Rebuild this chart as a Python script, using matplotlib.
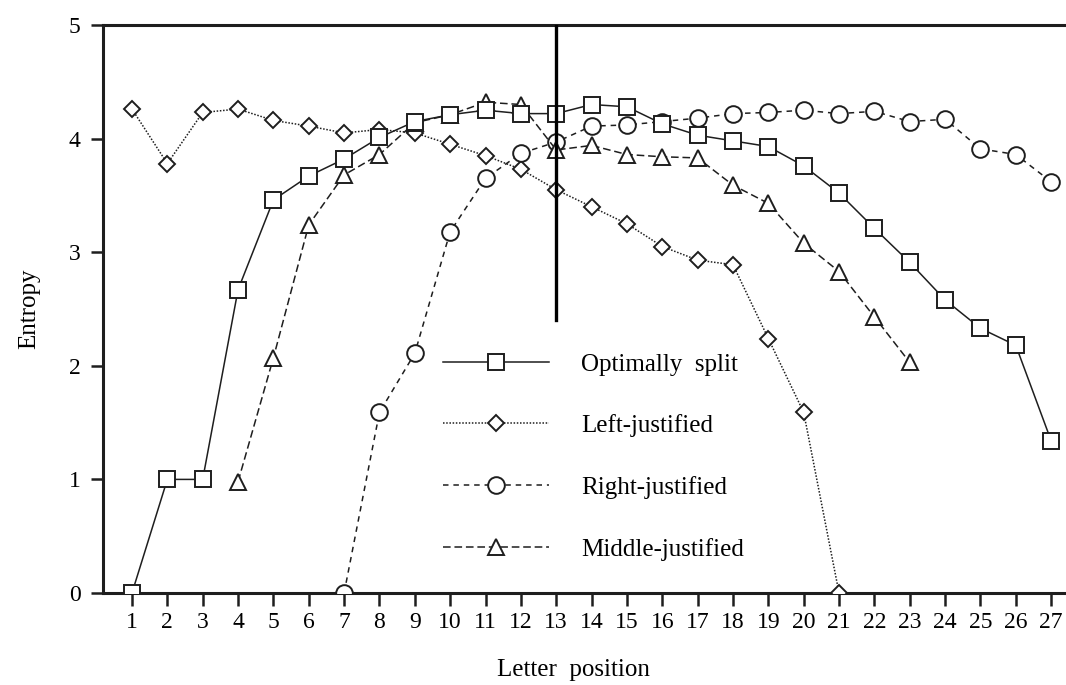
import matplotlib
matplotlib.use("Agg")
import matplotlib.pyplot as plt

positions = list(range(1, 28))

optimal = [0.0, 1.0, 1.0, 2.67, 3.46, 3.67, 3.82, 4.01, 4.15, 4.21, 4.25, 4.22, 4.22,
           4.30, 4.28, 4.13, 4.03, 3.98, 3.93, 3.76, 3.52, 3.21, 2.91, 2.58, 2.33, 2.18, 1.34]
left_just = [4.26, 3.78, 4.23, 4.26, 4.16, 4.11, 4.05, 4.08, 4.05, 3.95, 3.85, 3.73,
             3.55, 3.40, 3.25, 3.05, 2.93, 2.89, 2.24, 1.59, 0.0]
right_just = [0.0, 1.59, 2.11, 3.18, 3.65, 3.87, 3.97, 4.11, 4.12, 4.15, 4.18, 4.22,
              4.23, 4.25, 4.22, 4.24, 4.15, 4.17, 3.91, 3.86, 3.62]
middle_just = [0.98, 2.07, 3.24, 3.68, 3.86, 4.14, 4.21, 4.32, 4.30, 3.90, 3.94, 3.86,
               3.84, 3.83, 3.59, 3.43, 3.08, 2.83, 2.43, 2.03]

left_x = positions[:21]
right_x = positions[6:]
middle_x = positions[3:23]

plt.rcParams['font.family'] = ['Liberation Serif', 'DejaVu Serif']

fig = plt.figure(figsize=(10.66, 6.85), dpi=100)
ax = fig.add_axes([103 / 1066, 1 - 593 / 685, 1 - 103 / 1066, (593 - 25) / 685])

ink = '#1e1e1e'
common = dict(color=ink, linewidth=1.1, markerfacecolor='white',
              markeredgecolor=ink, markeredgewidth=1.4)

ax.plot(positions, optimal, '-', marker='s', markersize=12, label='Optimally  split',
        zorder=4, **common)
ax.plot(left_x, left_just, linestyle=(0, (1.0, 1.1)), marker='D', markersize=8.5,
        label='Left-justified', zorder=3, **common)
ax.plot(right_x, right_just, linestyle=(0, (3.6, 3.2)), marker='o', markersize=12,
        label='Right-justified', zorder=3, **common)
ax.plot(middle_x, middle_just, linestyle=(0, (5.0, 2.5)), marker='^', markersize=12,
        label='Middle-justified', zorder=3, **common)

# split point marker
ax.plot([13, 13], [2.4, 5], color='black', linewidth=2.4, zorder=5)

ax.set_xlim(0.18, 27.42)
ax.set_ylim(0, 5)
ax.set_xticks(positions)
ax.set_yticks(range(6))
ax.tick_params(axis='both', direction='out', length=9, width=1.8, labelsize=17, color=ink)
ax.tick_params(axis='x', pad=5)
ax.tick_params(axis='y', pad=7)

for side in ['left', 'bottom', 'top']:
    ax.spines[side].set_linewidth(2.2)
    ax.spines[side].set_color(ink)
ax.spines['right'].set_visible(False)

ax.set_xlabel('Letter  position', fontsize=18)
ax.xaxis.set_label_coords(0.489, -0.117)
ax.set_ylabel('Entropy', fontsize=18)
ax.yaxis.set_label_coords(-0.065, 0.5)

ax.legend(loc='upper left', bbox_to_anchor=((443 - 103) / 963, (593 - 353) / 568),
          frameon=False, fontsize=18, handlelength=4.25, handletextpad=1.28,
          labelspacing=1.55, borderpad=0, borderaxespad=0, numpoints=1)

fig.savefig('out.png', dpi=100)
